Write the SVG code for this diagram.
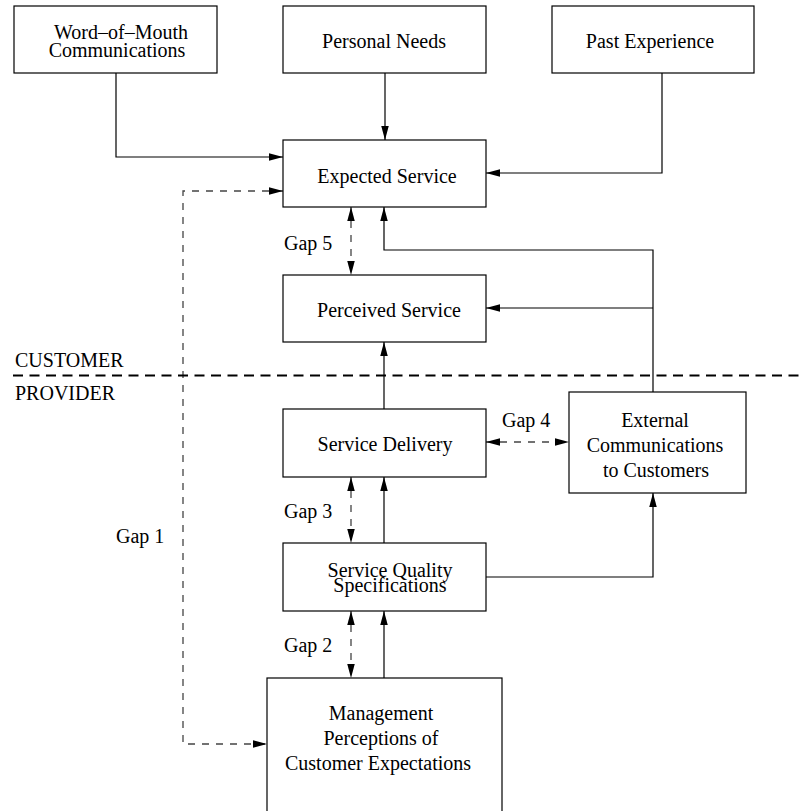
<svg xmlns="http://www.w3.org/2000/svg" width="802" height="811" viewBox="0 0 802 811">
<style>
.box{fill:#fff;stroke:#000;stroke-width:1.2}
.t{font-family:"Liberation Serif","Times New Roman",serif;font-size:20px;fill:#000;text-anchor:middle}
.l{font-family:"Liberation Serif","Times New Roman",serif;font-size:20px;fill:#000}
.c{fill:none;stroke:#000;stroke-width:1.2}
.d{fill:none;stroke:#444;stroke-width:1.3;stroke-dasharray:7 7}
.sep{fill:none;stroke:#000;stroke-width:2;stroke-dasharray:10 6.5}
</style>
<defs>
<marker id="a" markerUnits="userSpaceOnUse" markerWidth="14" markerHeight="8" refX="14" refY="3.75" orient="auto-start-reverse">
<path d="M0,0 L14,3.75 L0,7.5 Z" fill="#000" stroke="none"/>
</marker>
</defs>
<g id="connectors">
<path class="c" d="M116,73 V157 H283" marker-end="url(#a)"/>
<path class="c" d="M385,73 V140" marker-end="url(#a)"/>
<path class="c" d="M662,73 V173 H486" marker-end="url(#a)"/>
<path class="c" d="M653,392 V250 H384 V207" marker-end="url(#a)"/>
<path class="c" d="M653,308 H486" marker-end="url(#a)"/>
<path class="c" d="M384,409 V342" marker-end="url(#a)"/>
<path class="c" d="M384,543 V477" marker-end="url(#a)"/>
<path class="c" d="M384,678 V611" marker-end="url(#a)"/>
<path class="c" d="M486,577 H653 V493" marker-end="url(#a)"/>
<path class="d" d="M283,191 H183 V744 H267" marker-start="url(#a)" marker-end="url(#a)"/>
<path class="d" d="M351,207 V275" marker-start="url(#a)" marker-end="url(#a)"/>
<path class="d" d="M486,442 H569" marker-start="url(#a)" marker-end="url(#a)"/>
<path class="d" d="M351,477 V543" marker-start="url(#a)" marker-end="url(#a)"/>
<path class="d" d="M351,611 V678" marker-start="url(#a)" marker-end="url(#a)"/>
<path class="sep" d="M13,375.5 H802"/>
</g>
<g id="labels">
<text class="l" x="15" y="367">CUSTOMER</text>
<text class="l" x="15" y="400">PROVIDER</text>
<text class="l" x="284" y="250">Gap 5</text>
<text class="l" x="502" y="427">Gap 4</text>
<text class="l" x="284" y="518">Gap 3</text>
<text class="l" x="116" y="543">Gap 1</text>
<text class="l" x="284" y="652">Gap 2</text>
</g>
<g id="word-of-mouth">
<rect class="box" x="14" y="6" width="203" height="67"/>
<text class="t" x="121" y="39">Word–of–Mouth</text>
<text class="t" x="117" y="57">Communications</text>
</g>
<g id="personal-needs">
<rect class="box" x="283" y="6" width="203" height="67"/>
<text class="t" x="384" y="48">Personal Needs</text>
</g>
<g id="past-experience">
<rect class="box" x="552" y="6" width="202" height="67"/>
<text class="t" x="650" y="48">Past Experience</text>
</g>
<g id="expected-service">
<rect class="box" x="283" y="140" width="203" height="67"/>
<text class="t" x="387" y="183">Expected Service</text>
</g>
<g id="perceived-service">
<rect class="box" x="283" y="275" width="203" height="67"/>
<text class="t" x="389" y="317">Perceived Service</text>
</g>
<g id="service-delivery">
<rect class="box" x="283" y="409" width="203" height="68"/>
<text class="t" x="385" y="451">Service Delivery</text>
</g>
<g id="external-communications">
<rect class="box" x="569" y="392" width="177" height="101"/>
<text class="t" x="655" y="427">External</text>
<text class="t" x="655" y="452">Communications</text>
<text class="t" x="656" y="477">to Customers</text>
</g>
<g id="service-quality-specifications">
<rect class="box" x="283" y="543" width="203" height="68"/>
<text class="t" x="390" y="577">Service Quality</text>
<text class="t" x="390" y="592">Specifications</text>
</g>
<g id="management-perceptions">
<rect class="box" x="267" y="678" width="235" height="160"/>
<text class="t" x="381" y="720">Management</text>
<text class="t" x="381" y="745">Perceptions of</text>
<text class="t" x="378" y="770">Customer Expectations</text>
</g>
</svg>
